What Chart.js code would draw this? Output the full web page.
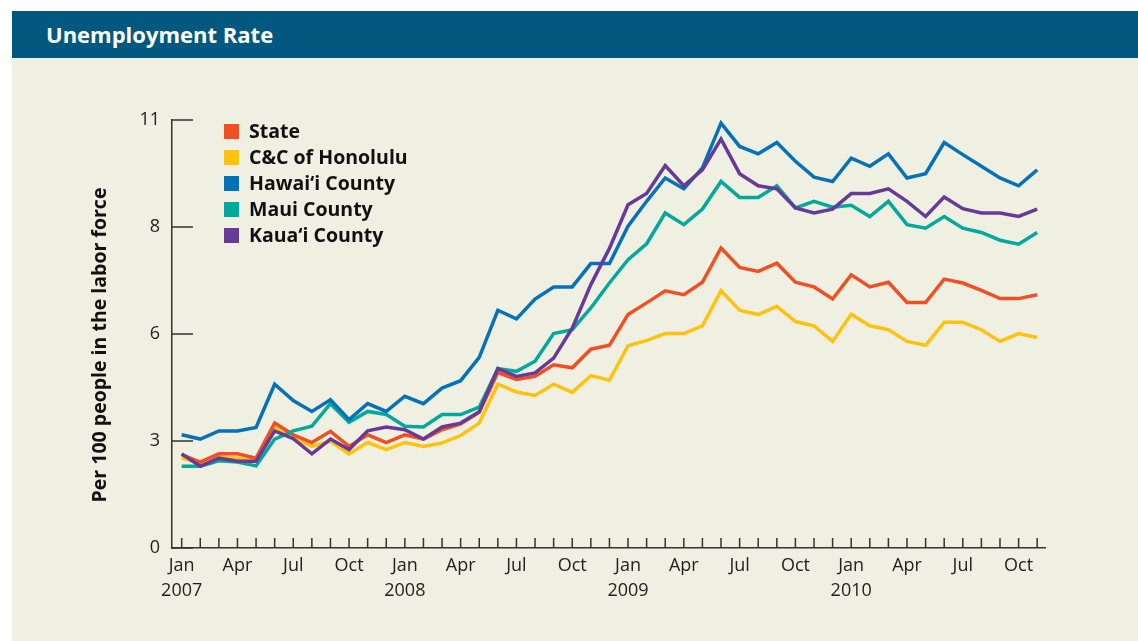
<!DOCTYPE html>
<html>
<head>
<meta charset="utf-8">
<script src="https://cdn.jsdelivr.net/npm/chart.js@4"></script>
<style>
  body { margin: 0; background: #fff; width: 1138px; height: 641px; overflow: hidden; position: relative; }
  #header { position: absolute; left: 12px; top: 11px; right: 0; height: 47px; background: #03587f; }
  #header span { position: absolute; left: 34px; top: 8px; color: #fff; font: bold 22px "Open Sans", sans-serif; }
  #panel { position: absolute; left: 12px; top: 58px; right: 0; bottom: 0; background: #f0f0e2; }
  #chart { position: absolute; left: 0; top: 0; }
</style>
</head>
<body>
<div id="header"><span>Unemployment Rate</span></div>
<div id="panel"></div>
<canvas id="chart" width="1138" height="641"></canvas>
<script>
// months Jan 2007 .. Nov 2010
const monthNames = ['Jan', 'Feb', 'Mar', 'Apr', 'May', 'Jun', 'Jul', 'Aug', 'Sep', 'Oct', 'Nov', 'Dec'];
const years = ['2007', '2008', '2009', '2010'];
const shownMonths = ['Jan', 'Apr', 'Jul', 'Oct'];

const yTickValues = [0, 2.75, 5.5, 8.25, 11];
const yTickLabels = ['0', '3', '6', '8', '11'];
const yTitle = 'Per 100 people in the labor force';

const seriesNames = ['State', 'C&C of Honolulu', 'Hawai\u2018i County', 'Maui County', 'Kaua\u2018i County'];
const seriesColors = ['#f04f23', '#fec20f', '#0472ba', '#00a99c', '#673a98'];

const state = [2.40, 2.21, 2.42, 2.42, 2.31, 3.21, 2.91, 2.71, 3.00, 2.61, 2.91, 2.71,
  2.91, 2.80, 3.04, 3.19, 3.49, 4.51, 4.33, 4.41, 4.71, 4.63, 5.11, 5.21,
  6.00, 6.30, 6.61, 6.51, 6.83, 7.71, 7.21, 7.11, 7.32, 6.83, 6.71, 6.40,
  7.02, 6.71, 6.83, 6.31, 6.31, 6.91, 6.81, 6.62, 6.41, 6.41, 6.51];
const honolulu = [2.31, 2.18, 2.35, 2.31, 2.25, 3.13, 2.83, 2.61, 2.74, 2.42, 2.71, 2.53,
  2.71, 2.61, 2.70, 2.89, 3.21, 4.21, 4.01, 3.92, 4.21, 4.00, 4.43, 4.31,
  5.20, 5.33, 5.51, 5.51, 5.71, 6.61, 6.11, 6.00, 6.21, 5.82, 5.71, 5.31,
  6.01, 5.71, 5.61, 5.31, 5.21, 5.80, 5.80, 5.61, 5.31, 5.51, 5.41];
const hawaii = [2.91, 2.80, 3.01, 3.01, 3.10, 4.21, 3.79, 3.51, 3.81, 3.30, 3.71, 3.51,
  3.90, 3.71, 4.11, 4.30, 4.90, 6.11, 5.89, 6.40, 6.71, 6.71, 7.31, 7.31,
  8.27, 8.91, 9.51, 9.23, 9.77, 10.92, 10.32, 10.13, 10.42, 9.94, 9.53, 9.42,
  10.02, 9.81, 10.13, 9.51, 9.62, 10.42, 10.11, 9.81, 9.51, 9.31, 9.72];
const maui = [2.10, 2.10, 2.24, 2.21, 2.11, 2.80, 3.01, 3.13, 3.71, 3.23, 3.51, 3.43,
  3.13, 3.11, 3.43, 3.43, 3.62, 4.61, 4.54, 4.80, 5.51, 5.61, 6.17, 6.81,
  7.41, 7.82, 8.61, 8.31, 8.71, 9.42, 9.01, 9.01, 9.31, 8.74, 8.91, 8.76,
  8.81, 8.52, 8.91, 8.31, 8.22, 8.52, 8.22, 8.11, 7.91, 7.81, 8.11];
const kauai = [2.42, 2.10, 2.31, 2.23, 2.23, 3.01, 2.81, 2.42, 2.80, 2.53, 3.01, 3.11,
  3.04, 2.80, 3.11, 3.21, 3.50, 4.61, 4.41, 4.50, 4.88, 5.65, 6.77, 7.70,
  8.82, 9.11, 9.83, 9.31, 9.72, 10.51, 9.62, 9.31, 9.23, 8.74, 8.61, 8.71,
  9.11, 9.11, 9.23, 8.91, 8.52, 9.02, 8.72, 8.61, 8.61, 8.52, 8.71];

const allSeries = [state, honolulu, hawaii, maui, kauai];
const drawOrder = [4, 5, 2, 3, 1]; // lower = on top

const fontFamily = '"Open Sans", sans-serif';
const axisColor = '#333';

function tickLabel(v) {
    if (!Number.isInteger(v) || v < 0) return '';
    const m = monthNames[v % 12];
    if (shownMonths.indexOf(m) < 0) return '';
    if (m === 'Jan') return [m, years[Math.floor(v / 12)]];
    return m;
}

// inward tick marks, y title and the legend inside the plot
const extrasPlugin = {
    id: 'extras',
    afterDraw(chart) {
        const ctx = chart.ctx;
        const xs = chart.scales.x, ys = chart.scales.y;
        const area = chart.chartArea;
        ctx.save();
        ctx.strokeStyle = axisColor;
        ctx.lineWidth = 1.5;
        ctx.beginPath();
        for (let i = 0; i < state.length; i++) {
            const px = xs.getPixelForValue(i);
            ctx.moveTo(px, area.bottom);
            ctx.lineTo(px, area.bottom - 10);
        }
        yTickValues.forEach(v => {
            const py = ys.getPixelForValue(v);
            ctx.moveTo(area.left, py);
            ctx.lineTo(area.left + 21, py);
        });
        ctx.stroke();

        // axis title
        ctx.save();
        ctx.translate(100, 345);
        ctx.rotate(-Math.PI / 2);
        ctx.font = 'bold 19.5px ' + fontFamily;
        ctx.fillStyle = '#111';
        ctx.textAlign = 'center';
        ctx.textBaseline = 'middle';
        ctx.fillText(yTitle, 0, 0);
        ctx.restore();

        ctx.font = 'bold 19.5px ' + fontFamily;
        ctx.textBaseline = 'middle';
        chart.data.datasets.forEach((ds, i) => {
            const y = area.top + 11.5 + i * 26;
            ctx.fillStyle = ds.borderColor;
            ctx.fillRect(area.left + 52, y - 7.5, 15, 15);
            ctx.fillStyle = '#111';
            ctx.fillText(ds.label, area.left + 77, y + 1);
        });
        ctx.restore();
    }
};

const ctx = document.getElementById('chart').getContext('2d');
const chart = new Chart(ctx, {
    type: 'line',
    data: {
        datasets: allSeries.map((s, i) => ({
            label: seriesNames[i],
            data: s.map((v, j) => ({ x: j, y: v })),
            borderColor: seriesColors[i],
            borderWidth: 3.5,
            pointRadius: 0,
            tension: 0,
            fill: false,
            order: drawOrder[i]
        }))
    },
    options: {
        responsive: false,
        animation: false,
        layout: { padding: { left: 88, right: 93, top: 120, bottom: 0 } },
        plugins: { legend: { display: false }, tooltip: { enabled: false } },
        scales: {
            x: {
                type: 'linear',
                min: -0.52,
                max: 46.42,
                afterFit(scale) { scale.height = 93; },
                afterBuildTicks(scale) { scale.ticks = state.map((v, i) => ({ value: i })); },
                grid: { display: false, drawTicks: false },
                border: { color: axisColor, width: 1.5 },
                ticks: {
                    autoSkip: false,
                    maxRotation: 0,
                    padding: 6,
                    color: '#222',
                    font: { family: fontFamily, size: 18, lineHeight: 1.35 },
                    callback: tickLabel
                }
            },
            y: {
                min: 0,
                max: 11,
                afterFit(scale) { scale.width = 84; },
                afterBuildTicks(scale) { scale.ticks = yTickValues.map(v => ({ value: v })); },
                grid: { display: false, drawTicks: false },
                border: { color: axisColor, width: 1.5 },
                ticks: {
                    padding: 12,
                    color: '#222',
                    font: { family: fontFamily, size: 18 },
                    callback: (v) => yTickLabels[yTickValues.indexOf(v)]
                }
            }
        }
    },
    plugins: [extrasPlugin]
});
</script>
</body>
</html>
